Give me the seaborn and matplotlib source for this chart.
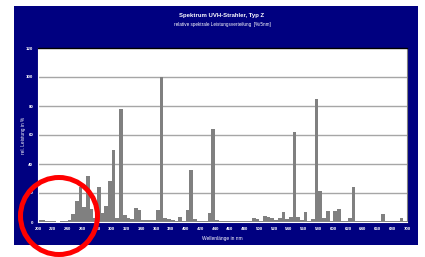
import matplotlib
matplotlib.use('Agg')
import seaborn as sns
import matplotlib.pyplot as plt
import pandas as pd
from matplotlib.patches import Rectangle, Ellipse
from matplotlib.ticker import MultipleLocator

# Wellenlaenge (Beginn des 5-nm-Intervalls) und relative Leistung in %
wellenlaenge = list(range(200, 700, 5))
leistung = [
    1.2, 1.2, 1.0, 0.8, 0.5, 0.3, 0.5, 1.0, 1.5, 5.5,      # 200-245
    14.5, 24, 10.5, 32, 9, 3, 24, 6, 11, 28,               # 250-295
    50, 3, 78, 4.5, 2.5, 2, 9.4, 8, 1.5, 1.5,              # 300-345
    1.5, 1.5, 8.5, 100, 3, 2, 1.5, 1, 3.7, 1,              # 350-395
    8, 36, 2, 1, 1, 1, 6.3, 64, 1.5, 1,                    # 400-445
    0.8, 0.8, 0.5, 0.5, 0.5, 0.5, 0.5, 0.8, 2.8, 2.3,      # 450-495
    1, 4, 3.5, 2.5, 1.5, 2.5, 7, 2.4, 3.2, 62,             # 500-545
    3.2, 1.7, 6.7, 1, 2, 85, 21.5, 2.7, 7.6, 1,            # 550-595
    7.4, 8.7, 0.5, 0.5, 2.7, 24.4, 0.5, 0.5, 0.5, 0.5,     # 600-645
    0.5, 0.5, 0.5, 5.5, 0.5, 0.5, 0.5, 0.5, 2.6, 0.5,      # 650-695
]
x_ticks = list(range(200, 701, 20))
y_ticks = list(range(0, 121, 20))

titel = 'Spektrum UVH-Strahler, Typ Z'
untertitel = 'relative spektrale Leistungsverteilung  [%/5nm]'

df = pd.DataFrame({'nm': wellenlaenge, 'wert': leistung})
df['mitte'] = df['nm'] + 2.5  # Mitte des 5-nm-Intervalls

sns.set_style('white')
plt.rcParams['font.family'] = ['Liberation Sans', 'DejaVu Sans']

navy = '#000080'
fig = plt.figure(figsize=(4.25, 2.57), dpi=100, facecolor='white')
W, H = 425, 257

# dunkelblauer Diagrammhintergrund
fig.add_artist(Rectangle((14 / W, 1 - 245 / H), 404 / W, 239 / H,
                         transform=fig.transFigure, facecolor=navy,
                         edgecolor='none', zorder=0))

ax = fig.add_axes([38 / W, 35 / H, 369 / W, 174 / H])
ax.set_facecolor('white')
sns.barplot(data=df, x='mitte', y='wert', native_scale=True, width=1.0,
            color='#808080', saturation=1, linewidth=0, ax=ax)

ax.set_xlim(200, 700)
ax.set_ylim(0, 120)
ax.set_xticks(x_ticks)
ax.set_xticklabels([str(t) for t in x_ticks])
ax.set_yticks(y_ticks)
ax.set_yticklabels([str(t) for t in y_ticks])
ax.xaxis.set_minor_locator(MultipleLocator(5))
ax.yaxis.set_minor_locator(MultipleLocator(4))

for g in y_ticks[1:-1]:
    ax.axhline(g, color='#a6a6a6', linewidth=1.0, zorder=0)

ax.tick_params(axis='both', which='major', colors='white', labelsize=3.2,
               length=2, width=0.6, pad=1.5, direction='out')
ax.tick_params(axis='both', which='minor', colors='white', length=1.5,
               width=0.5, direction='out')
for lab in ax.get_xticklabels() + ax.get_yticklabels():
    lab.set_fontweight('bold')

ax.spines['top'].set_color('black')
ax.spines['top'].set_linewidth(1.0)
ax.spines['right'].set_color('#808080')
ax.spines['left'].set_color('white')
ax.spines['bottom'].set_color('white')

ax.set_xlabel('Wellenlänge in nm', color='white', fontsize=3.5)
ax.xaxis.set_label_coords(0.5, -0.08)
ax.set_ylabel('rel. Leistung in %', color='white', fontsize=3.4)
ax.yaxis.set_label_coords(-0.032, 0.5)

fig.text(222 / W, 1 - 16 / H, titel, color='white', fontsize=4.3,
         fontweight='bold', ha='center', va='center')
fig.text(222 / W, 1 - 24.5 / H, untertitel, color='white', fontsize=3.3,
         ha='center', va='center')

# roter Markierungskreis
fig.add_artist(Ellipse((59 / W, 41 / H), 77 / W, 77 / H,
                       transform=fig.transFigure, fill=False,
                       edgecolor='#ff0000', linewidth=3.6, zorder=10))

fig.savefig('out.png', dpi=100, facecolor='white')
